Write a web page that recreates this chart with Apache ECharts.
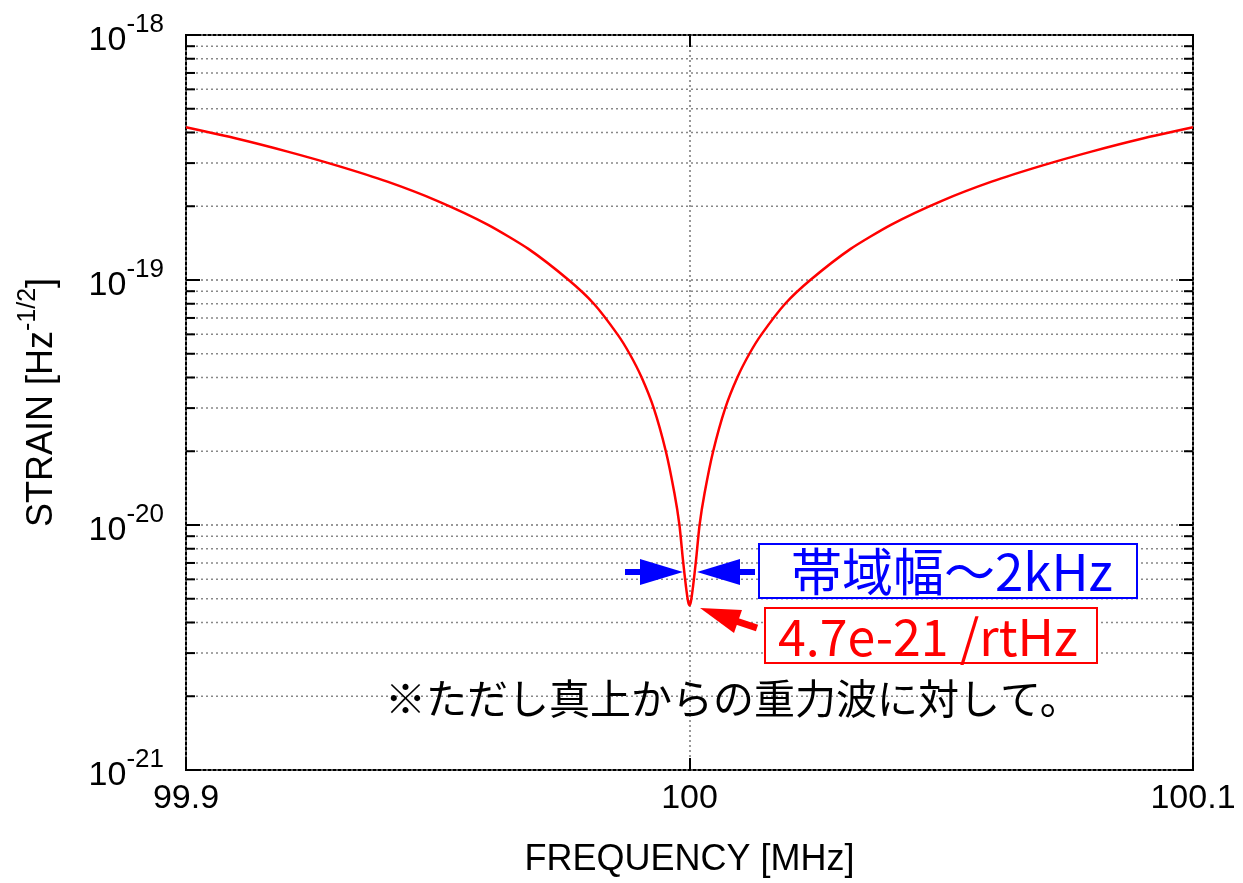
<!DOCTYPE html>
<html>
<head>
<meta charset="utf-8">
<script src="https://cdn.jsdelivr.net/npm/echarts@6/dist/echarts.min.js"></script>
<style>
  html, body { margin: 0; padding: 0; background: #fff; }
  #main { width: 1243px; height: 883px; }
</style>
</head>
<body>
<div id="main"></div>
<script>
// frequency [MHz] and strain [1/rtHz]
var freqs = [99.9, 99.91, 99.92, 99.93, 99.94, 99.95, 99.96, 99.968, 99.976, 99.981, 99.9857, 99.9881, 99.9905, 99.9929,
    99.9953, 99.997, 99.998, 99.9987, 99.9993, 99.9997,
    100.0,
    100.0003, 100.0007, 100.0013, 100.002, 100.003, 100.0047, 100.0071, 100.0095, 100.0119, 100.0143,
    100.019, 100.024, 100.032, 100.04, 100.05, 100.06, 100.07, 100.08, 100.09, 100.1];
var strain = [4.2e-19, 3.78e-19, 3.35e-19, 2.93e-19, 2.52e-19, 2.1e-19, 1.68e-19, 1.34e-19, 1.0e-19, 8.0e-20, 6.0e-20, 5.0e-20, 4.0e-20, 3.0e-20,
    2.0e-20, 1.35e-20, 1.0e-20, 7.2e-21, 5.6e-21, 4.9e-21,
    4.7e-21,
    4.9e-21, 5.6e-21, 7.2e-21, 1.0e-20, 1.35e-20, 2.0e-20, 3.0e-20, 4.0e-20, 5.0e-20, 6.0e-20,
    8.0e-20, 1.0e-19, 1.34e-19, 1.68e-19, 2.1e-19, 2.52e-19, 2.93e-19, 3.35e-19, 3.78e-19, 4.2e-19];

var xMin = 99.9, xMax = 100.1;
var decades = [-21, -20, -19, -18];
var mantissas = [2, 3, 4, 5, 6, 7, 8, 9];

// echarts log axis rounds tiny numbers to 0, so the axis runs in units of 1e-21
var UNIT_EXP = -21;
var unit = Math.pow(10, UNIT_EXP);
function toAxis(v) { return v / unit; }

var yMin = toAxis(Math.pow(10, decades[0]));
var yMax = toAxis(Math.pow(10, decades[decades.length - 1]));

var minorTicks = [];
decades.slice(0, -1).forEach(function (d) {
    mantissas.forEach(function (m) {
        minorTicks.push(m * Math.pow(10, d - UNIT_EXP));
    });
});

var seriesData = freqs.map(function (f, i) { return [f, toAxis(strain[i])]; });

var latin = '"Liberation Sans", Arial, Helvetica, sans-serif';
var cjk = '"Noto Sans CJK JP", sans-serif';

var expRich = {
    b: { fontSize: 34, fontFamily: latin, color: '#000', lineHeight: 46, verticalAlign: 'bottom' },
    s: { fontSize: 26, fontFamily: latin, color: '#000', lineHeight: 46, verticalAlign: 'top' }
};

var myChart = echarts.init(document.getElementById('main'));

var option = {
    backgroundColor: '#fff',
    animation: false,
    grid: {
        left: 186, right: 50, top: 35, bottom: 112,
        show: true, borderColor: '#000', borderWidth: 2
    },
    xAxis: [{
        type: 'value',
        min: xMin, max: xMax, interval: 0.1,
        name: 'FREQUENCY [MHz]',
        nameLocation: 'middle',
        nameGap: 72,
        nameTextStyle: { fontSize: 36, fontFamily: latin, color: '#000' },
        axisLine: { show: false },
        axisTick: { show: true, inside: true, length: 12, lineStyle: { color: '#000', width: 2 } },
        axisLabel: {
            margin: 12, fontSize: 34, fontFamily: latin, color: '#000',
            formatter: function (v) { return String(+v.toFixed(1)); }
        },
        splitLine: { show: true, lineStyle: { color: '#777', width: 1.5, type: [2, 3] } }
    }, {
        type: 'value', position: 'top',
        min: xMin, max: xMax, interval: 0.1,
        axisLine: { show: false },
        axisTick: { show: true, inside: true, length: 12, lineStyle: { color: '#000', width: 2 } },
        axisLabel: { show: false },
        splitLine: { show: false }
    }],
    yAxis: [{
        type: 'log', logBase: 10,
        min: yMin, max: yMax,
        name: '{a|STRAIN [Hz}{s|-1/2}{a|]}',
        nameLocation: 'middle',
        nameRotate: 90,
        nameGap: 126,
        nameTextStyle: {
            rich: {
                a: { fontSize: 36, fontFamily: latin, color: '#000', lineHeight: 44, verticalAlign: 'bottom' },
                s: { fontSize: 25, fontFamily: latin, color: '#000', lineHeight: 44, verticalAlign: 'top' }
            }
        },
        axisLine: { show: false },
        axisTick: { show: true, inside: true, length: 14, lineStyle: { color: '#000', width: 2 } },
        axisLabel: {
            margin: 22,
            formatter: function (v) {
                var e = Math.round(Math.log10(v)) + UNIT_EXP;
                return '{b|10}{s|' + e + '}';
            },
            rich: expRich
        },
        splitLine: { show: true, lineStyle: { color: '#777', width: 1.5, type: [2, 3] } }
    }, {
        type: 'log', logBase: 10, position: 'right',
        min: yMin, max: yMax,
        axisLine: { show: false },
        axisTick: { show: true, inside: true, length: 14, lineStyle: { color: '#000', width: 2 } },
        axisLabel: { show: false },
        splitLine: { show: false }
    }],
    series: [{
        // minor grid lines + ticks at 2..9 x 10^n
        type: 'custom',
        z: 1,
        silent: true,
        xAxisIndex: 0, yAxisIndex: 0,
        encode: { x: 0, y: 1 },
        data: minorTicks.map(function (v) { return [xMin, v]; }),
        renderItem: function (params, api) {
            var v = api.value(1);
            var a = api.coord([xMin, v]);
            var b = api.coord([xMax, v]);
            return {
                type: 'group',
                children: [
                    { type: 'line', shape: { x1: a[0], y1: a[1], x2: b[0], y2: b[1] },
                      style: { stroke: '#888', lineWidth: 1.5, lineDash: [2, 3] } },
                    { type: 'line', shape: { x1: a[0], y1: a[1], x2: a[0] + 9, y2: a[1] },
                      style: { stroke: '#000', lineWidth: 2 } },
                    { type: 'line', shape: { x1: b[0] - 9, y1: b[1], x2: b[0], y2: b[1] },
                      style: { stroke: '#000', lineWidth: 2 } }
                ]
            };
        }
    }, {
        type: 'line',
        z: 3,
        xAxisIndex: 0, yAxisIndex: 0,
        data: seriesData,
        showSymbol: false,
        smooth: 0.2,
        lineStyle: { color: '#ff0000', width: 2.5 }
    }],
    graphic: [
        // blue arrows pointing at the dip
        { type: 'rect', z: 100, shape: { x: 625, y: 569, width: 16, height: 6 }, style: { fill: '#0000ff' } },
        { type: 'polygon', z: 100, shape: { points: [[640, 559], [683, 572], [640, 585]] }, style: { fill: '#0000ff' } },
        { type: 'polygon', z: 100, shape: { points: [[697, 572], [740, 559], [740, 585]] }, style: { fill: '#0000ff' } },
        { type: 'rect', z: 100, shape: { x: 739, y: 569, width: 16, height: 6 }, style: { fill: '#0000ff' } },
        // blue label box
        { type: 'rect', z: 100, shape: { x: 759, y: 544, width: 378, height: 54 },
          style: { fill: '#fff', stroke: '#0000ff', lineWidth: 2 } },
        { type: 'text', z: 101, x: 791, y: 572,
          style: { text: '帯域幅〜2kHz', fill: '#0000ff', font: '51px ' + cjk, verticalAlign: 'middle' } },
        // red arrow + label
        { type: 'line', z: 100, shape: { x1: 736, y1: 621, x2: 757, y2: 628 }, style: { stroke: '#ff0000', lineWidth: 7 } },
        { type: 'polygon', z: 100, shape: { points: [[700, 608], [742, 610], [734, 633]] }, style: { fill: '#ff0000' } },
        { type: 'rect', z: 100, shape: { x: 765, y: 608, width: 332, height: 55 },
          style: { fill: '#fff', stroke: '#ff0000', lineWidth: 2 } },
        { type: 'text', z: 101, x: 778, y: 637,
          style: { text: '4.7e-21 /rtHz', fill: '#ff0000', font: '50px ' + cjk, verticalAlign: 'middle' } },
        // note
        { type: 'text', z: 101, x: 385, y: 698,
          style: { text: '※ただし真上からの重力波に対して。', fill: '#000', font: '41px ' + cjk, verticalAlign: 'middle' } }
    ]
};

myChart.setOption(option);
</script>
</body>
</html>
